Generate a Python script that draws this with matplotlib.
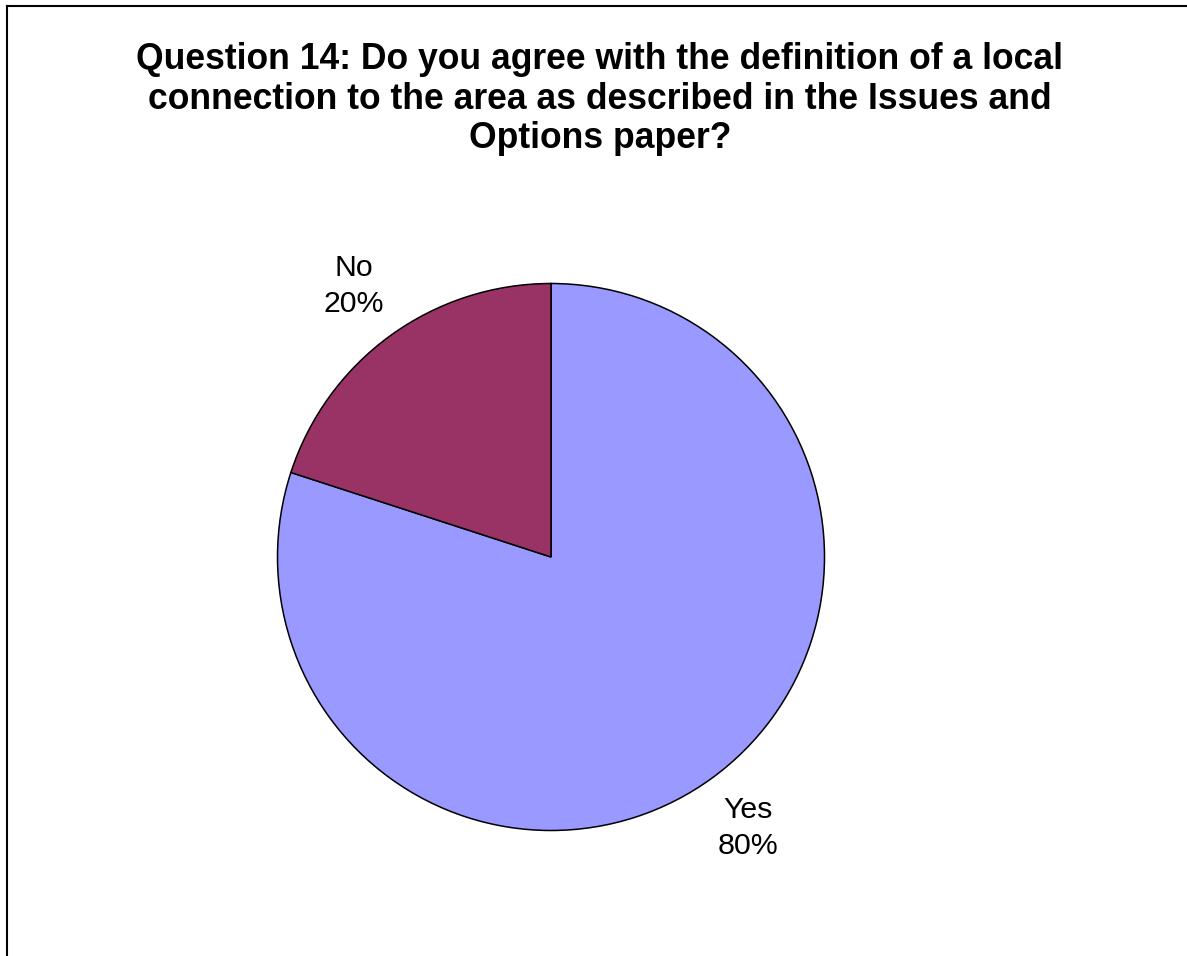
import matplotlib.pyplot as plt
from matplotlib.lines import Line2D

plt.rcParams['font.family'] = ['Liberation Sans', 'DejaVu Sans']

labels = ["Yes", "No"]
values = [80, 20]
colors = ["#9999FF", "#993366"]
title = ("Question 14: Do you agree with the definition of a local\n"
         "connection to the area as described in the Issues and\n"
         "Options paper?")

W, H = 1187, 956
fig = plt.figure(figsize=(W / 100, H / 100), dpi=100)

# pie area, centre (551, 557) px, radius ~273 px
cx, cy, r = 551, 557, 273.5
ax = fig.add_axes([(cx - r) / W, (H - cy - r) / H, 2 * r / W, 2 * r / H])

total = sum(values)
texts_lbl = [f"{l}\n{round(v / total * 100)}%" for l, v in zip(labels, values)]
wedges, texts = ax.pie(values, labels=texts_lbl, colors=colors, startangle=90,
                       counterclock=False, radius=1, labeldistance=1.225,
                       wedgeprops=dict(edgecolor="black", linewidth=1.1),
                       textprops=dict(fontsize=21.8))
for t in texts:
    t.set_horizontalalignment("center")
    t.set_multialignment("center")
    t.set_linespacing(1.4)
ax.set_xlim(-1, 1)
ax.set_ylim(-1, 1)
ax.set_aspect("equal")
ax.axis("off")

fig.text(600 / W, 1 - 42 / H, title, ha="center", va="top", fontsize=25.6,
         fontweight="bold", linespacing=1.17)

# frame lines on top and left edge
fig.add_artist(Line2D([7 / W, 1], [1 - 6 / H, 1 - 6 / H], color="black", linewidth=1.5))
fig.add_artist(Line2D([7 / W, 7 / W], [0, 1 - 6 / H], color="black", linewidth=1.5))

fig.savefig("out.png", dpi=100)
